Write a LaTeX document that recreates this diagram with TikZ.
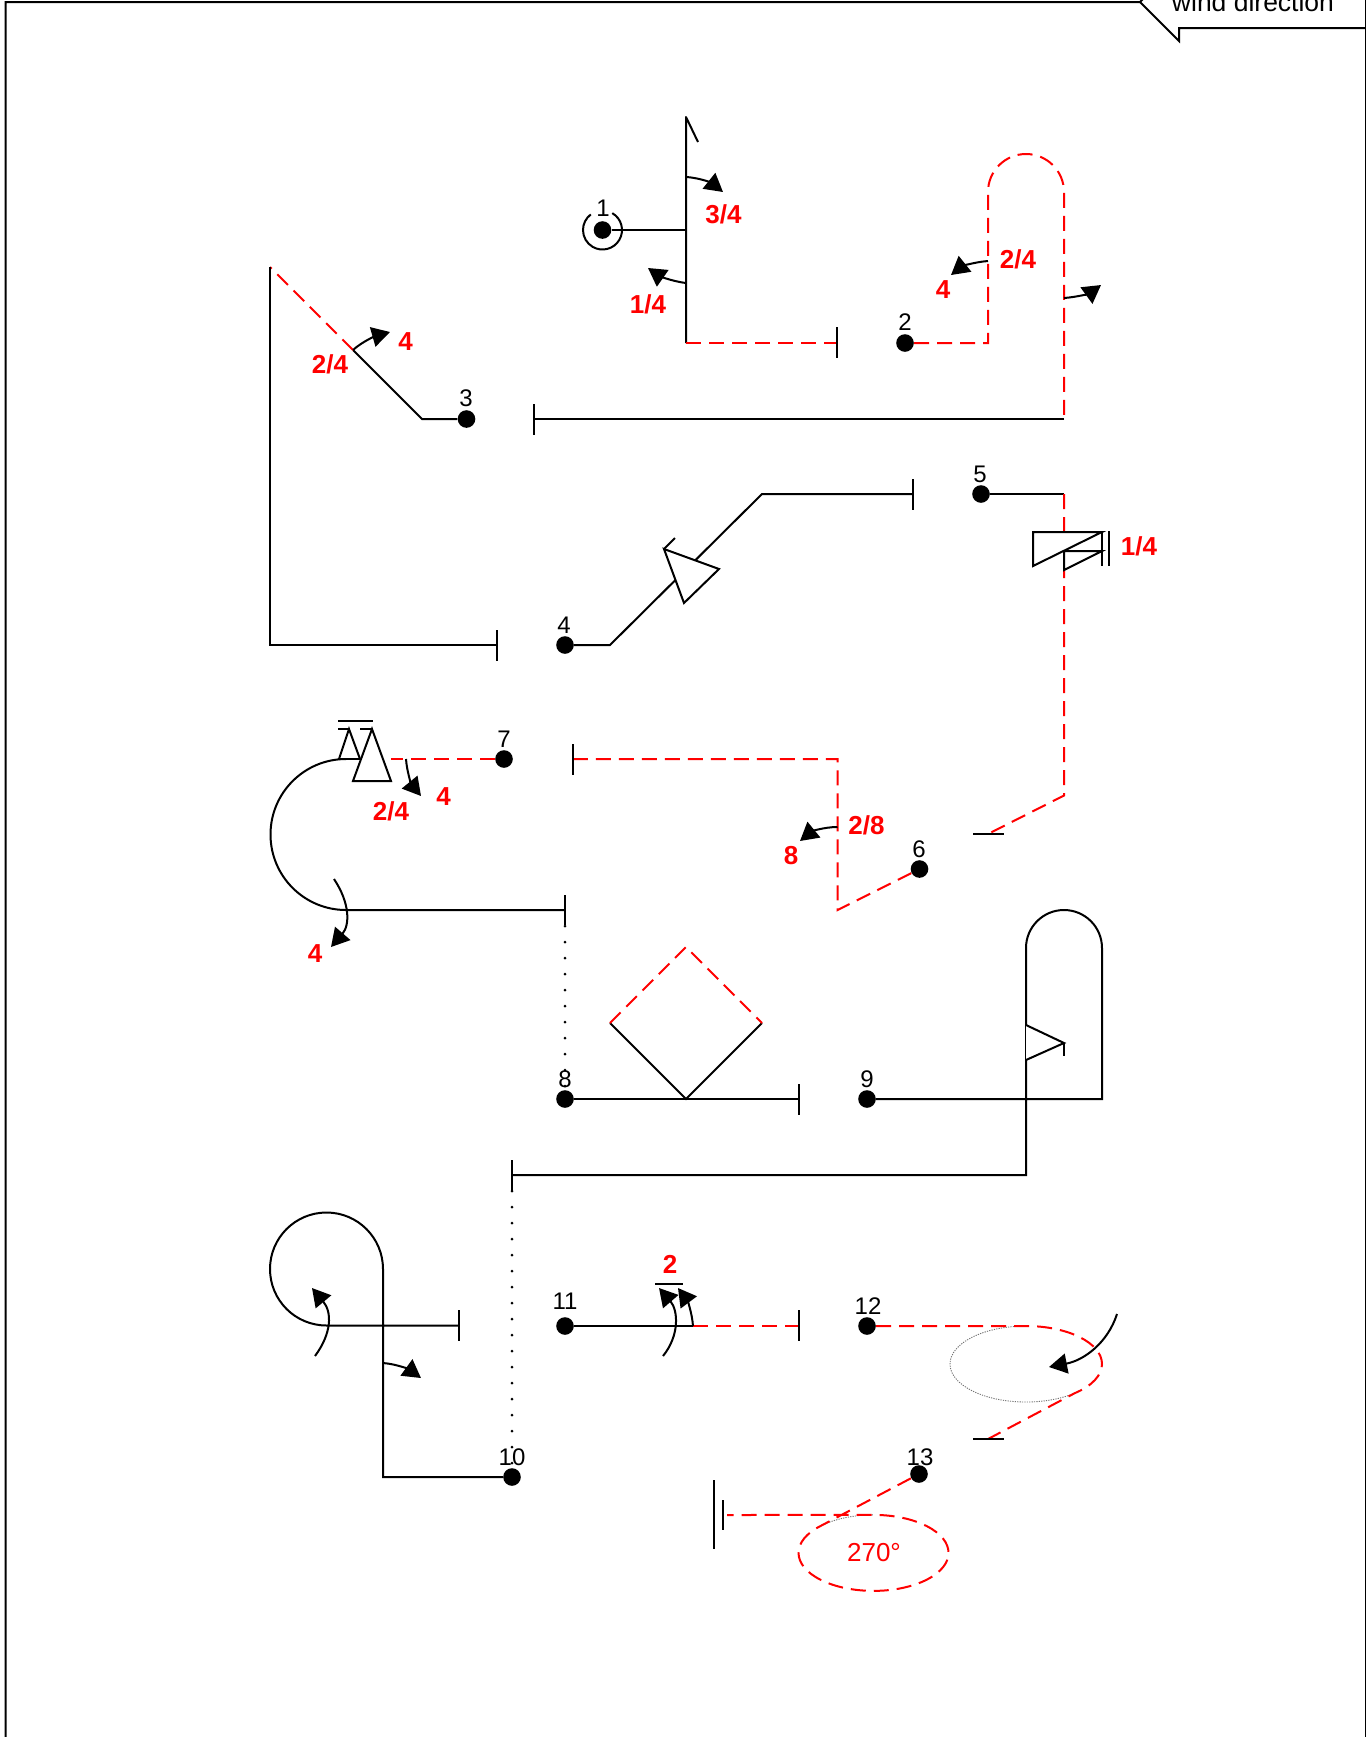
\documentclass[tikz,border=0pt]{standalone}
\usepackage{fontspec}
\setmainfont{Liberation Sans}
\usetikzlibrary{arrows.meta}
\tikzset{
  ln/.style={line width=1pt,black,line join=miter},
  rd/.style={line width=1pt,red,dash pattern=on 7.5pt off 4pt},
  dotline/.style={line width=1.5pt,black,line cap=round,dash pattern=on 0pt off 8pt},
  ghost/.style={line width=0.45pt,black!55,dash pattern=on 0.6pt off 0.6pt},
  turn/.style={line width=1pt,black,-{Triangle[length=9pt,width=10pt]}},
  wp/.style={circle,fill=black,inner sep=0pt,minimum size=8.8pt},
  num/.style={font=\fontsize{12}{14}\selectfont,inner sep=0pt},
  lab/.style={font=\bfseries\fontsize{13}{15}\selectfont,text=red,inner sep=0pt},
  sym/.style={line width=1pt,black,fill=white,line join=miter}
}
\begin{document}
\begin{tikzpicture}[x=0.5pt,y=-0.5pt]
\useasboundingbox (0,0) rectangle (1366,1737);
\clip (0,0) rectangle (1366,1737);
\fill[white] (0,0) rectangle (1366,1737);
% frame with callout
\draw[ln] (5.5,1737) -- (5.5,2) -- (1140,2) -- (1147,-5);
\draw[ln] (1140,2) -- (1179,41) -- (1179,28) -- (1366,28);
\draw[ln] (1365.5,0) -- (1365.5,1737);
\node[font=\fontsize{13.25}{15}\selectfont,inner sep=0pt,anchor=base] (wind) at (1253,11) {wind direction};
% waypoints
\node[wp] (d1) at (602.5,230) {};
\node[wp] (d2) at (905,343) {};
\node[wp] (d3) at (466.5,419) {};
\node[wp] (d4) at (565,645) {};
\node[wp] (d5) at (981,494) {};
\node[wp] (d6) at (919.5,869) {};
\node[wp] (d7) at (504,759) {};
\node[wp] (d8) at (565,1099) {};
\node[wp] (d9) at (867,1099) {};
\node[wp] (d10) at (512,1477) {};
\node[wp] (d11) at (565,1326) {};
\node[wp] (d12) at (867,1326) {};
\node[wp] (d13) at (919,1474) {};
\node[num] (n1) at (603,208) {1};
\node[num] (n2) at (905,322) {2};
\node[num] (n3) at (466,398) {3};
\node[num] (n4) at (564,625) {4};
\node[num] (n5) at (980,474) {5};
\node[num] (n6) at (919,849) {6};
\node[num] (n7) at (504,739) {7};
\node[num] (n8) at (565,1079) {8};
\node[num] (n9) at (867,1079) {9};
\node[num] (n10) at (512,1457) {10};
\node[num] (n11) at (565,1301) {11};
\node[num] (n12) at (868,1306) {12};
\node[num] (n13) at (920,1457) {13};
% leg 1
\draw[ln] (602.5,230) ++(-60:19.5) arc[start angle=-60,end angle=233,radius=19.5];
\draw[ln] (d1) -- (686,230);
\draw[ln,line join=round] (698,142) -- (686,117) -- (686,343);
\draw[rd] (686,343) -- (837,343);
\draw[ln] (837,327) -- (837,358);
\draw[turn] (686,177) .. controls (702,178) and (713,184) .. (723,192);
\draw[turn] (686,283) .. controls (670,281) and (658,275) .. (648,268);
\node[lab] (l34) at (723.5,214) {3/4};
\node[lab] (l14) at (648,304) {1/4};
% leg 2
\draw[rd] (d2) -- (988,343) -- (988,192) arc[start angle=-180,end angle=0,radius=38] -- (1064,419);
\draw[ln] (1064,419) -- (534,419);
\draw[ln] (534,404) -- (534,435);
\draw[turn] (988,261) .. controls (974,262) and (961,267) .. (951,275);
\draw[turn] (1064,298) .. controls (1078,297) and (1090,293) .. (1101,285);
\node[lab] (l24a) at (1018,259) {2/4};
\node[lab] (l4a) at (943,290) {4};
% leg 3
\draw[ln] (d3) -- (422,419) -- (353,350);
\draw[rd] (353,350) -- (270,267);
\draw[ln] (270,267) -- (270,645) -- (497,645);
\draw[ln] (497,630) -- (497,661);
\draw[turn] (353,350) .. controls (363,341) and (376,336) .. (390,332);
\node[lab] (l24b) at (330,364.5) {2/4};
\node[lab] (l4b) at (405.5,342) {4};
% leg 4
\draw[ln] (d4) -- (610,645) -- (762,494) -- (913,494);
\draw[ln] (913,479) -- (913,510);
\draw[sym] (664,549) -- (719,569) -- (684,603) -- cycle;
\draw[ln] (664,549) -- (675,538);
% leg 5
\draw[ln] (d5) -- (1064,494);
\draw[rd] (1064,494) -- (1064,795.5) -- (988,834);
\draw[ln] (973,834) -- (1004,834);
\draw[sym] (1033,566) -- (1033,532) -- (1102,532) -- cycle;
\draw[sym] (1064,570) -- (1064,551) -- (1102,551) -- cycle;
\draw[ln] (1102,532) -- (1102,566);
\draw[ln] (1109,531) -- (1109,566);
\node[lab] (l14b) at (1139,546) {1/4};
% leg 6
\draw[rd] (d6) -- (837.5,910) -- (837.5,759) -- (573,759);
\draw[ln] (573,744) -- (573,775);
\draw[turn] (837.5,827) .. controls (823,827) and (811,832) .. (800,841);
\node[lab] (l28) at (866.4,825.5) {2/8};
\node[lab] (l8) at (791,856) {8};
% leg 7
\draw[rd] (d7) -- (391,759);
\draw[ln] (339,759) -- (360,759);
\draw[ln] (346,759) arc[start angle=270,end angle=90,radius=75.5] -- (565,910);
\draw[ln] (565,895) -- (565,925);
\draw[ln] (339,759) -- (349,729) -- (360,759);
\draw[sym] (372,729) -- (353,781) -- (391,781) -- cycle;
\draw[ln] (338,729) -- (350,729);
\draw[ln] (360,729) -- (373,729);
\draw[ln] (338,721) -- (373,721);
\draw[turn] (406,759) .. controls (407,773) and (412,785) .. (421,796);
\draw[turn] (334,879) .. controls (350,903) and (350,925) .. (331,947);
\node[lab] (l24c) at (391,811) {2/4};
\node[lab] (l4c) at (443.5,797) {4};
\node[lab] (l4d) at (315,954) {4};
\draw[dotline] (565,926) -- (d8);
% leg 8
\draw[ln] (d8) -- (799,1099);
\draw[ln] (799,1084) -- (799,1115);
\draw[ln] (610,1023) -- (686,1099) -- (762,1023);
\draw[rd] (610,1023) -- (686,947) -- (762,1023);
% leg 9
\draw[ln] (d9) -- (1102,1099) -- (1102,948) arc[start angle=0,end angle=-180,radius=38] -- (1026,1175) -- (512,1175);
\draw[ln] (512,1160) -- (512,1191);
\draw[sym] (1026,1025) -- (1064,1043) -- (1026,1060);
\draw[ln] (1064,1043) -- (1064,1056);
\draw[dotline] (512,1191) -- (d10);
% leg 10
\draw[ln] (d10) -- (383,1477) -- (383,1269) arc[start angle=0,end angle=-270,radius=56.5] -- (459,1325.5);
\draw[ln] (459,1310) -- (459,1341);
\draw[turn] (315,1356) .. controls (332,1333) and (332,1312) .. (312,1288);
\draw[turn] (383,1363) .. controls (397,1364) and (410,1370) .. (421,1378);
% leg 11
\draw[ln] (d11) -- (693,1326);
\draw[rd] (693,1326) -- (799,1326);
\draw[ln] (799,1310) -- (799,1341);
\draw[turn] (693,1326) .. controls (692,1312) and (687,1300) .. (678,1288);
\draw[turn] (663,1356) .. controls (680,1335) and (678,1310) .. (659,1288);
\draw[ln] (655,1284) -- (683,1284);
\node[lab] (l2) at (670,1264) {2};
% leg 12
\draw[ghost] (1026,1326) arc[start angle=-90,end angle=-310,x radius=76,y radius=38];
\draw[rd] (d12) -- (1026,1326) arc[start angle=-90,end angle=50,x radius=76,y radius=38] -- (988,1439);
\draw[ln] (973,1439) -- (1004,1439);
\draw[turn] (1117,1314) .. controls (1108,1342) and (1085,1360) .. (1049,1367);
% leg 13
\draw[ghost] (820.5,1526) arc[start angle=-135,end angle=-90,x radius=75,y radius=38];
\draw[rd] (d13) -- (820.5,1526) arc[start angle=-135,end angle=-450,x radius=75,y radius=38] -- (727,1515);
\draw[ln] (723,1500) -- (723,1530);
\draw[ln] (714,1480) -- (714,1549);
\node[font=\fontsize{13}{15}\selectfont,text=red,inner sep=0pt] (deg) at (874,1553) {270°};
\end{tikzpicture}
\end{document}
